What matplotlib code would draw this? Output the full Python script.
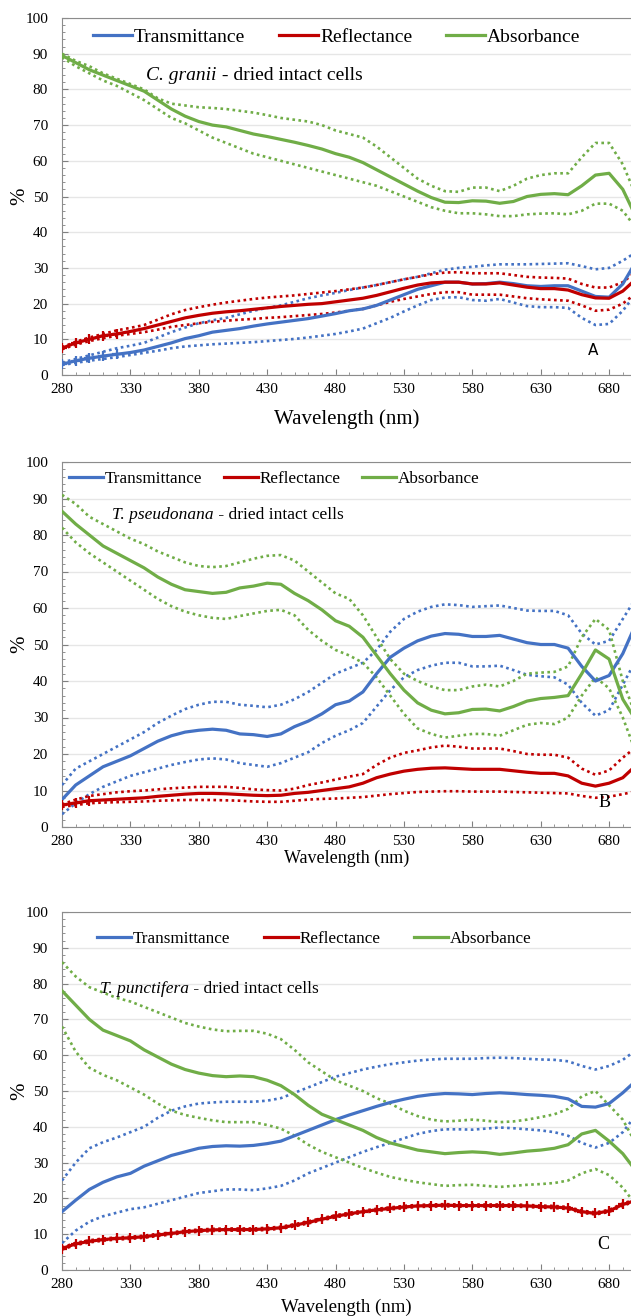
import numpy as np
import matplotlib
matplotlib.use("Agg")
import matplotlib.pyplot as plt
from matplotlib.ticker import MultipleLocator

plt.rcParams['font.family'] = ['Liberation Serif', 'DejaVu Serif']

# wavelength grid (nm), shared by all series
wl = list(range(280, 701, 10))

# ---- panel A : C. granii ----
A_abs = [89.5,87.5,85.5,84,82.5,81,79.5,77,74.5,72.5,71,70,69.5,68.5,67.5,66.8,66,65.2,64.3,63.3,62,61,59.5,57.5,55.5,53.5,51.5,49.7,48.4,48.3,48.8,48.7,48.1,48.6,50,50.6,50.8,50.5,53,56,56.5,52,44]
A_abs_hi = [90,88,86.5,84.5,83,81.5,80,77.5,76,75.5,75,74.8,74.5,74,73.5,72.8,72,71.5,71,70,68.5,67.5,66.5,64,61,58,55,53,51.5,51.3,52.5,52.5,51.5,53,55,56,56.5,56.5,61,65,65,59,50]
A_abs_lo = [89,86.5,84.5,82.5,81,79,77,74.5,72,70.5,68.5,66.5,65,63.5,62,61,60,59,58,57,56,55,54,53,51.5,50,48.5,47,46,45.3,45.3,45,44.5,44.5,45,45.2,45.3,45,46,48,48,46,41]
A_tr = [3,4,4.7,5.3,5.8,6.3,7,8,9,10.2,11,12,12.5,13,13.7,14.3,14.8,15.3,15.8,16.5,17.2,18,18.5,19.5,21,22.5,24,25,26,26,25.5,25.6,26,25.6,25,24.8,25,25,23.5,22,21.8,25.5,32]
A_tr_hi = [3.5,4.5,5.5,6.5,7.5,8.2,9,10.5,12,13.3,14.5,15.3,16,17,18,18.8,19.5,20.5,21.5,22.3,23,23.8,24.5,25.2,26,26.8,27.5,28.5,29.5,30,30.3,30.7,31,31,31,31.1,31.2,31.3,30.5,29.6,30,32,34.5]
A_tr_lo = [2.8,3.4,4,4.5,5,5.6,6.2,6.8,7.5,8,8.3,8.6,8.8,9,9.2,9.5,9.8,10.1,10.5,11,11.5,12.2,13,14.5,16,17.8,19.5,21,21.7,21.8,21,20.8,21.3,20.3,19.3,19,19,18.8,16,14,14.3,18,23]
A_re = [7.5,9,10,11,11.5,12.2,13,14,15,16,16.7,17.3,17.7,18,18.4,18.8,19.2,19.5,19.8,20,20.5,21,21.5,22.3,23.3,24.3,25.2,25.8,26,26,25.5,25.5,25.8,25.2,24.6,24.2,24.2,23.8,22.5,21.6,21.5,23.5,27]
A_re_hi = [7.8,9.3,10.5,11.5,12.5,13.2,14,15.5,17,18.2,19,19.7,20.3,20.8,21.3,21.7,22,22.3,22.7,23.1,23.5,24,24.5,25.2,26,26.8,27.5,28.2,28.7,28.8,28.5,28.5,28.5,28,27.5,27.3,27.2,27,25.5,24.5,24.5,26,29]
A_re_lo = [7.2,8.5,9.5,10.3,11,11.5,12,12.7,13.5,14,14.5,14.9,15.2,15.5,15.7,16,16.2,16.5,16.8,17.1,17.5,18,18.5,19.5,20.5,21.3,22,22.7,23.2,23.2,22.5,22.5,22.5,22,21.5,21.2,21,20.8,19.5,18,18.3,20,23]

# ---- panel B : T. pseudonana ----
B_abs = [86.5,83,80,77,75,73,71,68.5,66.5,65,64.5,64,64.3,65.5,66,66.8,66.5,64,62,59.5,56.5,55,52,47,42,37.5,34,32,31,31.3,32.2,32.3,31.8,33,34.5,35.2,35.5,36,42,48.5,46,35,29]
B_abs_hi = [91,88.5,85,83,81,79,77.5,75.5,74,72.5,71.5,71.2,71.5,72.5,73.5,74.3,74.5,73,70,67,64,62.5,58,52,46,42,40,38.5,37.5,37.5,38.5,39,38.5,40,42,42.3,42.5,44,52,57,54,40,30]
B_abs_lo = [82,78,75,72.5,70,67.5,65,62.5,60.5,59,58,57.3,57,57.8,58.5,59.2,59.5,58,54,51,48.5,47,45,41,36,31,27,25.5,24.5,25,25.5,25.5,25,26.5,28,28.5,28.2,30,36,41,38,30,20]
B_tr = [7.5,11.5,14,16.5,18,19.5,21.5,23.5,25,26,26.5,26.8,26.5,25.5,25.3,24.8,25.5,27.5,29,31,33.5,34.5,37,42,46.5,49,51,52.3,53,52.8,52.2,52.2,52.5,51.5,50.5,50,50,49,44,40,41.5,47.5,56]
B_tr_hi = [11.5,16,18,20,22,24,26,28.5,30.5,32.3,33.5,34.3,34.3,33.5,33.2,32.8,33.5,35,37,39.5,42,43.5,45,48.5,53.5,57,59,60.3,61,60.8,60.3,60.5,60.7,60,59.3,59.2,59.2,58,53,50,51,57,63]
B_tr_lo = [3.5,6.5,9,11,12.5,14,15,16,17,17.8,18.5,18.8,18.5,17.5,17,16.5,17.5,19,20.5,23,25,26.5,28.5,33,37.5,41,43,44.2,45,45,44,44,44.2,43,41.7,41.3,41,39,34,30.5,32,39,46]
B_re = [6,6.6,7.2,7.4,7.6,7.8,8,8.4,8.7,9,9.2,9.2,9.1,8.9,8.7,8.6,8.7,9.2,9.5,10,10.5,11,12,13.5,14.5,15.3,15.8,16.1,16.2,16,15.8,15.8,15.8,15.4,15,14.7,14.7,14,12,11.2,12,13.5,17]
B_re_hi = [6.2,7.5,8.5,9,9.5,9.8,10,10.3,10.6,10.8,11,11,11,10.7,10.3,10.1,10,10.5,11.5,12.2,13,13.8,14.5,17,19,20.3,21,21.8,22.3,22,21.5,21.5,21.5,20.8,20,19.8,19.8,19,16,14.3,15.5,19,22]
B_re_lo = [5.5,6,6.5,6.7,6.8,6.9,7,7.2,7.3,7.4,7.4,7.4,7.3,7.2,7,6.9,6.9,7.2,7.5,7.7,7.8,8,8.2,8.6,9,9.3,9.6,9.7,9.8,9.8,9.7,9.7,9.7,9.6,9.5,9.4,9.3,9.2,8.5,8,8.3,9,9.8]

# ---- panel C : T. punctifera ----
C_abs = [78,74,70,67,65.5,64,61.5,59.5,57.5,56,55,54.3,54,54.2,54,53,51.5,49,46,43.5,42,40.5,39,37,35.5,34.5,33.5,33,32.5,32.8,33,32.8,32.3,32.7,33.2,33.5,34,35,38,39,36,32.5,27.5]
C_abs_hi = [86,82,79,77.5,76,75,73.5,72,70.5,69,68,67.2,66.7,66.8,66.8,66,64.5,61.5,58,55.5,53,51.5,50,48,46.5,44.5,43,42,41.5,41.7,42,41.7,41.3,41.5,42,42.7,43.5,45,48.5,50,46,42,35]
C_abs_lo = [68,61,56.5,54.5,53,51,49,46.5,44.5,43.3,42.5,41.8,41.3,41.3,41.3,40.5,39.5,37.5,35,33,31.5,30,28.5,27.2,26,25.2,24.5,24,23.5,23.7,23.8,23.5,23.2,23.5,23.8,24,24.3,25,27,28.2,26.5,23,18]
C_tr = [16.3,19.5,22.5,24.5,26,27,29,30.5,32,33,34,34.5,34.7,34.6,34.8,35.3,36,37.5,39,40.5,42,43.3,44.5,45.7,46.8,47.7,48.5,49,49.3,49.2,49,49.3,49.5,49.3,49,48.8,48.5,47.8,45.7,45.5,46.5,49.5,53]
C_tr_hi = [25,30,34,35.7,37,38.5,40,42.5,44.5,45.7,46.5,46.8,47,47,47,47.3,48,49.5,51,52.5,54,55,56,56.8,57.5,58,58.5,58.8,59,59,59,59.2,59.3,59.2,59,58.8,58.7,58.3,57,56,57,58.7,61.5]
C_tr_lo = [7.5,11,13.5,15,16,17,17.5,18.5,19.5,20.5,21.5,22,22.5,22.5,22.3,22.8,23.5,25,27,28.5,30,31.5,33,34.3,35.5,36.8,38,38.8,39.3,39.3,39.2,39.5,39.8,39.6,39.3,39,38.5,37.5,35.5,34.2,35.5,38.5,43.5]
C_re = [6,7.3,8,8.5,8.8,9,9.3,9.8,10.2,10.7,11,11.2,11.3,11.3,11.3,11.5,11.8,12.5,13.3,14.2,15,15.7,16.3,16.8,17.2,17.6,17.9,18,18.1,18,18,18,18,18,17.9,17.7,17.6,17.3,16.3,15.8,16.5,18.3,19.5]
C_re_hi = [6.3,7.6,8.3,8.8,9.1,9.3,9.6,10.1,10.5,11,11.3,11.5,11.6,11.6,11.6,11.8,12.1,12.8,13.6,14.5,15.3,16,16.6,17.1,17.5,17.9,18.2,18.3,18.4,18.3,18.3,18.3,18.3,18.3,18.2,18,17.9,17.6,16.6,16.1,16.8,18.6,19.8]
C_re_lo = [5.7,7,7.7,8.2,8.5,8.7,9,9.5,9.9,10.4,10.7,10.9,11,11,11,11.2,11.5,12.2,13,13.9,14.7,15.4,16,16.5,16.9,17.3,17.6,17.7,17.8,17.7,17.7,17.7,17.7,17.7,17.6,17.4,17.3,17,16,15.5,16.2,18,19.2]

series_names = ['Transmittance', 'Reflectance', 'Absorbance']
colors = ['#4472C4', '#C00000', '#70AD47']
x_ticks = [280, 330, 380, 430, 480, 530, 580, 630, 680]
y_ticks = list(range(0, 101, 10))

# where the tiny error bars show up as "+" crosses on the mean line
panels = [
    dict(tr=(A_tr, A_tr_hi, A_tr_lo), re=(A_re, A_re_hi, A_re_lo), ab=(A_abs, A_abs_hi, A_abs_lo),
         cross={'tr': slice(0, 5), 're': slice(0, 5)},
         species='C. granii', letter='A', rect=[62/631, 1-375/1316, 569/631, 357/1316],
         leg=(0.055, 0.947), leg_fs=14, col_sp=1.75, sub=(0.148, 0.84), sub_fs=14,
         let_pos=(0.933, 0.07), let_font='DejaVu Sans', let_fs=11, xl_pad=9, xl_fs=15),
    dict(tr=(B_tr, B_tr_hi, B_tr_lo), re=(B_re, B_re_hi, B_re_lo), ab=(B_abs, B_abs_hi, B_abs_lo),
         cross={'re': slice(0, 3)},
         species='T. pseudonana', letter='B', rect=[62/631, 1-827/1316, 569/631, 365/1316],
         leg=(0.012, 0.953), leg_fs=12.3, col_sp=1.25, sub=(0.088, 0.855), sub_fs=12.5,
         let_pos=(0.954, 0.066), let_font='Liberation Serif', let_fs=13, xl_pad=1, xl_fs=13),
    dict(tr=(C_tr, C_tr_hi, C_tr_lo), re=(C_re, C_re_hi, C_re_lo), ab=(C_abs, C_abs_hi, C_abs_lo),
         cross={'re': slice(0, None)},
         species='T. punctifera', letter='C', rect=[62/631, 1-1270/1316, 569/631, 358/1316],
         leg=(0.062, 0.925), leg_fs=12.3, col_sp=1.95, sub=(0.067, 0.785), sub_fs=12.5,
         let_pos=(0.951, 0.07), let_font='Liberation Serif', let_fs=13, xl_pad=5, xl_fs=13.5),
]

fig = plt.figure(figsize=(6.31, 13.16), dpi=100)

for p in panels:
    ax = fig.add_axes(p['rect'])
    for key, name, c in zip(['tr', 're', 'ab'], series_names, colors):
        mean, hi, lo = p[key]
        ax.plot(wl, hi, color=c, lw=1.9, ls=(0, (1, 1.3)), zorder=3)
        ax.plot(wl, lo, color=c, lw=1.9, ls=(0, (1, 1.3)), zorder=3)
        ax.plot(wl, mean, color=c, lw=2.3, label=name, zorder=4)
        if key in p['cross']:
            ax.plot(wl, mean, color=c, lw=0, marker='+', ms=7, mew=1.6,
                    markevery=p['cross'][key], zorder=5)

    ax.set_xlim(280, 696)
    ax.set_ylim(0, 100)
    ax.set_xticks(x_ticks)
    ax.set_yticks(y_ticks)
    ax.xaxis.set_minor_locator(MultipleLocator(10))
    ax.yaxis.set_minor_locator(MultipleLocator(2))
    ax.tick_params(axis='both', which='both', direction='in', labelsize=11, color='#808080')
    ax.tick_params(axis='both', which='major', length=4, pad=6)
    ax.tick_params(axis='both', which='minor', length=2.5)
    ax.tick_params(axis='y', pad=10)
    ax.grid(axis='y', color='#E6E6E6', lw=1)
    ax.set_axisbelow(True)
    for s in ['left', 'bottom', 'top']:
        ax.spines[s].set_color('#8C8C8C')
    ax.spines['right'].set_visible(False)

    ax.set_xlabel('Wavelength (nm)', fontsize=p['xl_fs'], labelpad=p['xl_pad'])
    ax.set_ylabel('%', fontsize=15)
    ax.yaxis.set_label_coords(-33 / 569, 0.5)

    ax.legend(loc='center left', bbox_to_anchor=p['leg'], ncol=3, frameon=False,
              fontsize=p['leg_fs'], handlelength=2.0, handletextpad=0.1,
              columnspacing=p['col_sp'], borderpad=0, borderaxespad=0)
    ax.text(p['sub'][0], p['sub'][1], p['species'], style='italic',
            fontsize=p['sub_fs'], transform=ax.transAxes, va='center')
    ax.annotate(' - dried intact cells', xy=(1, 0.5), xycoords=ax.texts[-1],
                fontsize=p['sub_fs'], va='center')
    ax.text(p['let_pos'][0], p['let_pos'][1], p['letter'], family=p['let_font'],
            fontsize=p['let_fs'], transform=ax.transAxes, ha='center', va='center')

fig.savefig('out.png', dpi=100)
